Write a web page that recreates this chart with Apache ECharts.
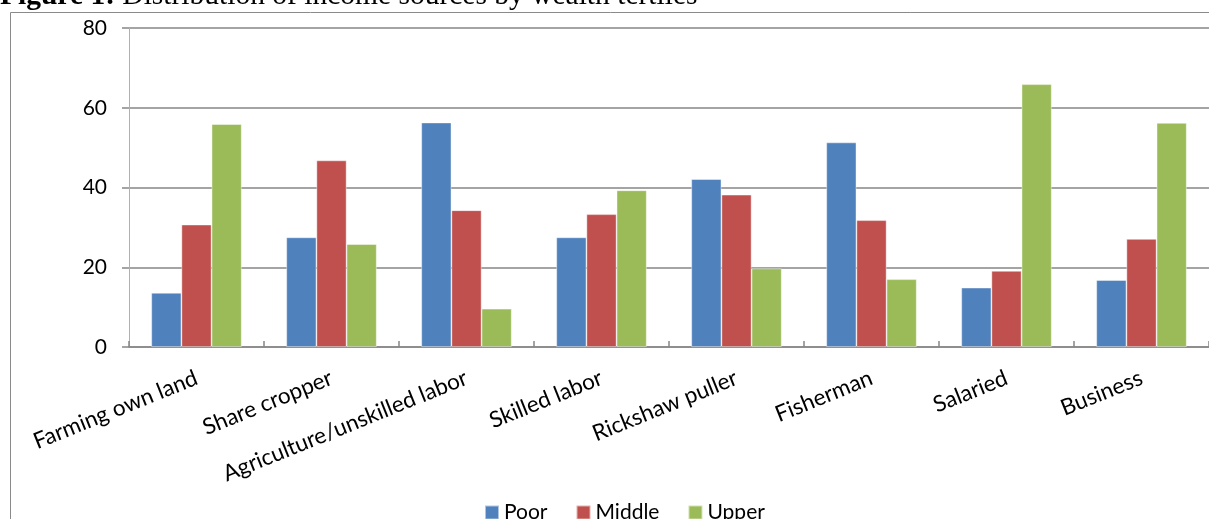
<!DOCTYPE html>
<html>
<head>
<meta charset="utf-8">
<script src="https://cdn.jsdelivr.net/npm/echarts@6/dist/echarts.min.js"></script>
<style>
  html, body { margin: 0; padding: 0; background: #fff; }
  #chart { width: 1209px; height: 519px; }
</style>
</head>
<body>
<div id="chart"></div>
<script>
// Income sources (categories) and share of households per wealth tertile
const categories = [
  'Farming own land', 'Share cropper', 'Agriculture/unskilled labor', 'Skilled labor',
  'Rickshaw puller', 'Fisherman', 'Salaried', 'Business'
];
const seriesNames = ['Poor', 'Middle', 'Upper'];
const poor   = [13.6, 27.5, 56.3, 27.5, 42.1, 51.3, 14.9, 16.8];
const middle = [30.7, 46.8, 34.3, 33.3, 38.2, 31.8, 19.1, 27.1];
const upper  = [55.9, 25.8,  9.6, 39.3, 19.7, 17.0, 65.9, 56.2];
const yMin = 0, yMax = 80, yStep = 20;

const colors = ['#4F81BD', '#C0504D', '#9BBB59'];
const font = 'Lato, "Open Sans", sans-serif';

const chart = echarts.init(document.getElementById('chart'), null, { renderer: 'canvas' });

function bar(name, data, color) {
  return {
    name: name,
    type: 'bar',
    data: data,
    barGap: '0%',
    barCategoryGap: '33%',
    itemStyle: { color: color, borderColor: 'rgba(255,255,255,0.55)', borderWidth: 0.8 },
    emphasis: { disabled: true }
  };
}

chart.setOption({
  animation: false,
  color: colors,
  graphic: [
    {
      type: 'text',
      left: 0,
      top: -19,
      style: {
        text: '{b|Figure 1:} Distribution of income sources by wealth tertiles',
        font: '29.5px "Liberation Serif", "Times New Roman", serif',
        fill: '#000',
        rich: {
          b: { font: 'bold 29.5px "Liberation Serif", "Times New Roman", serif', fill: '#000' }
        }
      }
    },
    {
      type: 'rect',
      shape: { x: 10.5, y: 12.5, width: 1400, height: 700 },
      style: { fill: 'none', stroke: '#8a8a8a', lineWidth: 1 },
      silent: true
    }
  ],
  grid: { left: 129, top: 28, width: 1092, height: 319, containLabel: false },
  legend: {
    data: seriesNames,
    left: 479,
    top: 497,
    icon: 'rect',
    itemWidth: 14,
    itemHeight: 14,
    itemGap: 28,
    textStyle: { fontFamily: font, fontSize: 21, color: '#000' }
  },
  xAxis: {
    type: 'category',
    data: categories,
    axisLine: { show: true, lineStyle: { color: '#868686', width: 1.5 } },
    axisTick: { show: true, inside: true, length: 6, lineStyle: { color: '#868686', width: 1.5 } },
    axisLabel: {
      rotate: 22,
      margin: 30,
      interval: 0,
      fontFamily: font,
      fontSize: 22.5,
      color: '#000'
    }
  },
  yAxis: {
    type: 'value',
    min: yMin,
    max: yMax,
    interval: yStep,
    axisLine: { show: true, lineStyle: { color: '#b0b0b0', width: 1 } },
    axisTick: { show: true, length: 7, lineStyle: { color: '#868686', width: 1.5 } },
    splitLine: { show: true, lineStyle: { color: '#868686', width: 1.5 } },
    axisLabel: { margin: 22, fontFamily: font, fontSize: 21, color: '#000' }
  },
  series: [
    bar(seriesNames[0], poor, colors[0]),
    bar(seriesNames[1], middle, colors[1]),
    bar(seriesNames[2], upper, colors[2])
  ]
});
</script>
</body>
</html>
